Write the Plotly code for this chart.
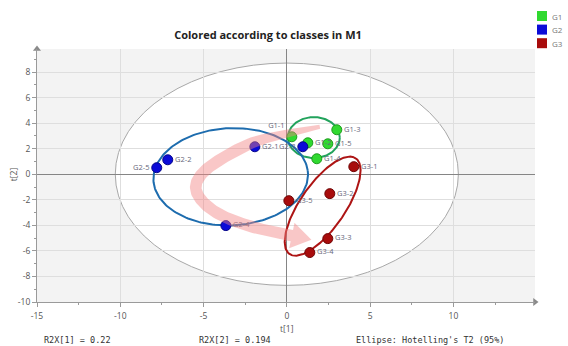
import numpy as np
import plotly.graph_objects as go

# ---- scores (t[1], t[2]) per class ----
g1_labels = ["G1-1", "G1-2", "G1-3", "G1-4", "G1-5"]
g1_t1 = [0.30, 1.26, 3.00, 1.80, 2.46]
g1_t2 = [2.93, 2.46, 3.48, 1.21, 2.38]

g2_labels = ["G2-1", "G2-2", "G2-3", "G2-4", "G2-5"]
g2_t1 = [-1.92, -7.15, 0.96, -3.66, -7.81]
g2_t2 = [2.15, 1.13, 2.15, -4.02, 0.51]

g3_labels = ["G3-1", "G3-2", "G3-3", "G3-4", "G3-5"]
g3_t1 = [4.02, 2.58, 2.46, 1.38, 0.12]
g3_t2 = [0.59, -1.52, -5.04, -6.13, -2.07]

# class ellipses: centre t1, centre t2, semi-axis a, semi-axis b, rotation (deg)
class_ellipses = {
    "G1": [1.62, 2.87, 1.56, 1.60, 0.0],
    "G2": [-3.37, -0.20, 4.65, 3.80, 6.0],
    "G3": [2.15, -2.50, 4.26, 1.44, 63.9],
}

# Hotelling's T2 (95%) limits
t2_lim_t1 = 10.3
t2_lim_t2 = 8.7

# trend path through the classes (t1, t2)
trend_t1 = [1.98, 0.18, -1.92, -3.72, -4.98, -5.47, -5.05, -3.90, -1.92, 0.30]
trend_t2 = [3.71, 3.24, 2.54, 1.37, 0.20, -0.98, -2.15, -3.24, -4.18, -4.80]

r2x = ["R2X[1] = 0.22", "R2X[2] = 0.194"]
ellipse_note = "Ellipse: Hotelling's T2 (95%)"

x_ticks = [-15, -10, -5, 0, 5, 10]
y_ticks = [-10, -8, -6, -4, -2, 0, 2, 4, 6, 8]

# ---- layout geometry ----
W, H = 568, 346
ML, MR, MT, MB = 37, 33, 49, 44
XR = [-15, 14.9]
YR = [-10, 9.8]
pw, ph = W - ML - MR, H - MT - MB
sx = pw / (XR[1] - XR[0])
sy = ph / (YR[1] - YR[0])

point_colors = {"G1": "#30d930", "G2": "#0b0bd8", "G3": "#a80c0c"}
point_edges = {"G1": "#1c9a1c", "G2": "#05058a", "G3": "#6e0505"}
ring_colors = {"G1": "#22a35c", "G2": "#1d6cae", "G3": "#ad1414"}
label_side = {"G1-1": "top left", "G2-3": "middle left", "G2-5": "middle left"}


def ellipse_xy(cx, cy, a, b, ang, n=200):
    t = np.linspace(0, 2 * np.pi, n)
    th = np.deg2rad(ang)
    x = cx + a * np.cos(th) * np.cos(t) - b * np.sin(th) * np.sin(t)
    y = cy + a * np.sin(th) * np.cos(t) + b * np.cos(th) * np.sin(t)
    return x, y


def catmull_rom(pts, n=16):
    pts = np.asarray(pts, float)
    p = np.vstack([pts[0] * 2 - pts[1], pts, pts[-1] * 2 - pts[-2]])
    out = []
    for i in range(1, len(p) - 2):
        p0, p1, p2, p3 = p[i - 1], p[i], p[i + 1], p[i + 2]
        for t in np.linspace(0, 1, n, endpoint=False):
            t2, t3 = t * t, t * t * t
            out.append(0.5 * ((2 * p1) + (-p0 + p2) * t + (2 * p0 - 5 * p1 + 4 * p2 - p3) * t2
                              + (-p0 + 3 * p1 - 3 * p2 + p3) * t3))
    out.append(p[-2])
    return np.array(out)


fig = go.Figure()

# class ellipses
for g, (cx, cy, a, b, ang) in class_ellipses.items():
    ex, ey = ellipse_xy(cx, cy, a, b, ang)
    fig.add_trace(go.Scatter(x=ex, y=ey, mode="lines", hoverinfo="skip",
                             line=dict(color=ring_colors[g], width=2), showlegend=False))

# score points
groups = [("G1", g1_t1, g1_t2, g1_labels), ("G2", g2_t1, g2_t2, g2_labels), ("G3", g3_t1, g3_t2, g3_labels)]
for g, xs, ys, labs in groups:
    pos = [label_side.get(lab, "middle right") for lab in labs]
    fig.add_trace(go.Scatter(
        x=xs, y=ys, mode="markers+text", text=labs, textposition=pos,
        textfont=dict(family="Open Sans", size=7.5, color="#66667a"),
        marker=dict(size=10, color=point_colors[g], line=dict(color=point_edges[g], width=1)),
        showlegend=False, name=g))

# translucent trend arrow, built as one outline in pixel space
pix = np.column_stack([np.array(trend_t1) * sx, np.array(trend_t2) * sy])
c = catmull_rom(pix, 14)
d = np.gradient(c, axis=0)
d /= np.linalg.norm(d, axis=1, keepdims=True)
nrm = np.column_stack([-d[:, 1], d[:, 0]])
s = np.linspace(0, 1, len(c))
half = 2.0 + 3.8 * np.clip(s / 0.25, 0, 1)
left = c + nrm * half[:, None]
right = c - nrm * half[:, None]
dir_end = d[-1]
n_end = nrm[-1]
base = c[-1]
tip = base + dir_end * 20
head_l = base + n_end * 13
head_r = base - n_end * 13
outline = np.vstack([left, head_l, tip, head_r, right[::-1], left[:1]])
fig.add_trace(go.Scatter(x=outline[:, 0] / sx, y=outline[:, 1] / sy, mode="lines",
                         fill="toself", fillcolor="rgba(242,130,130,0.45)",
                         line=dict(width=0), hoverinfo="skip", showlegend=False))

# axis arrow heads
fig.add_trace(go.Scatter(x=[XR[0]], y=[YR[1]], mode="markers", cliponaxis=False, hoverinfo="skip",
                         marker=dict(symbol="triangle-up", size=7, color="#8a8a8a"), showlegend=False))
fig.add_trace(go.Scatter(x=[XR[1]], y=[YR[0]], mode="markers", cliponaxis=False, hoverinfo="skip",
                         marker=dict(symbol="triangle-right", size=7, color="#8a8a8a"), showlegend=False))

shapes = [dict(type="circle", xref="x", yref="y", x0=-t2_lim_t1, x1=t2_lim_t1,
               y0=-t2_lim_t2, y1=t2_lim_t2, fillcolor="white",
               line=dict(color="#a8a8a8", width=1), layer="below")]

# class legend (top right)
ann = []
for i, g in enumerate(["G1", "G2", "G3"]):
    top = 11 + i * 13.6
    shapes.append(dict(type="rect", xref="paper", yref="paper",
                       x0=(537 - ML) / pw, x1=(547 - ML) / pw,
                       y0=(H - MB - (top + 10)) / ph, y1=(H - MB - top) / ph,
                       fillcolor=point_colors[g], line=dict(width=0)))
    ann.append(dict(text=g, xref="paper", yref="paper", x=(550 - ML) / pw,
                    y=(H - MB - (top + 5)) / ph, xanchor="left", yanchor="middle",
                    showarrow=False, font=dict(family="Open Sans", size=8, color="#777")))

ann.append(dict(text="t[1]", xref="x", yref="paper", x=0, y=(H - MB - 328) / ph,
                showarrow=False, xanchor="center", yanchor="middle",
                font=dict(family="Open Sans", size=8.5, color="#555")))
ann.append(dict(text="t[2]", xref="paper", yref="y", x=(13 - ML) / pw, y=0, textangle=-90,
                showarrow=False, xanchor="center", yanchor="middle",
                font=dict(family="Open Sans", size=8.5, color="#555")))
for txt, px in zip(r2x + [ellipse_note], [42, 197, 354]):
    ann.append(dict(text=txt, xref="paper", yref="paper", x=(px - ML) / pw,
                    y=(H - MB - 340) / ph, showarrow=False, xanchor="left", yanchor="middle",
                    font=dict(family="DejaVu Sans Mono", size=8.5, color="#333")))

axis_common = dict(showgrid=True, gridcolor="#dedede", gridwidth=1,
                   zeroline=True, zerolinecolor="#858585", zerolinewidth=1,
                   showline=True, linecolor="#9a9a9a", linewidth=1,
                   ticks="outside", ticklen=4, tickcolor="#9a9a9a",
                   tickfont=dict(family="Open Sans", size=8.5, color="#555"),
                   fixedrange=True)

fig.update_layout(
    width=W, height=H,
    margin=dict(l=ML, r=MR, t=MT, b=MB, pad=0),
    paper_bgcolor="white", plot_bgcolor="#f3f3f3",
    title=dict(text="<b>Colored according to classes in M1</b>", xref="paper",
               x=(268 - ML) / pw, xanchor="center", yref="container", y=1 - 35 / H,
               yanchor="middle", font=dict(family="Open Sans", size=11, color="#222")),
    xaxis=dict(range=XR, tickvals=x_ticks, ticktext=[str(v) for v in x_ticks], ticklabelstandoff=2,
               minor=dict(dtick=2.5, tick0=0, ticks="outside", ticklen=2, tickcolor="#9a9a9a", showgrid=False),
               **axis_common),
    yaxis=dict(range=YR, tickvals=y_ticks, ticktext=[str(v) for v in y_ticks],
               minor=dict(dtick=1, tick0=0, ticks="outside", ticklen=2, tickcolor="#9a9a9a", showgrid=False),
               **axis_common),
    shapes=shapes, annotations=ann, showlegend=False,
)

fig.write_html("out.html")
